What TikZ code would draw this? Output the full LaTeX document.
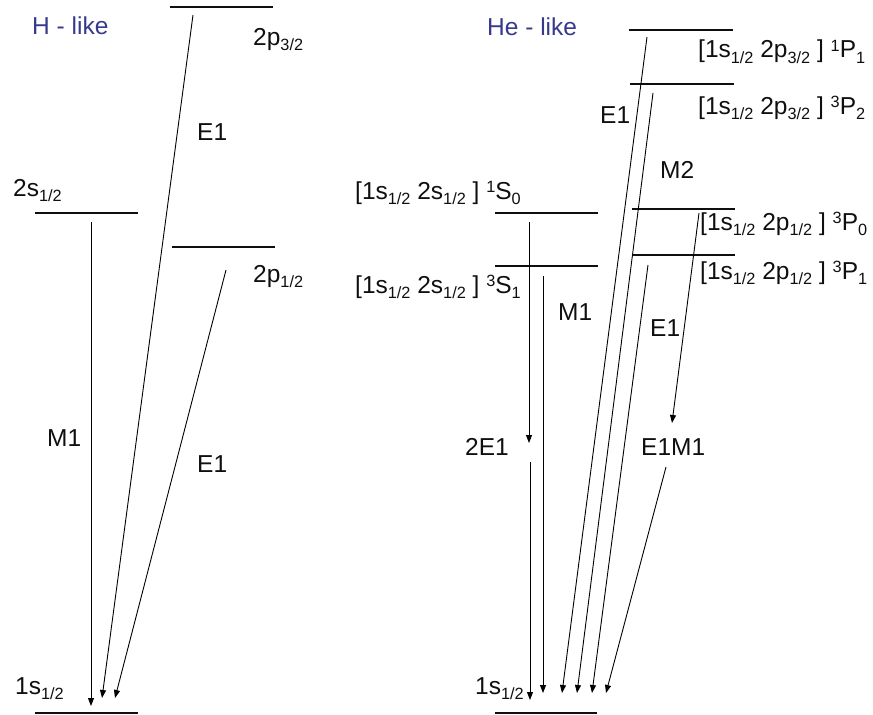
\documentclass[tikz,border=0pt]{standalone}
\usepackage{fontspec}
\setmainfont{Liberation Sans}
\usetikzlibrary{arrows.meta}
\newcommand\lo[1]{\raisebox{-5.5pt}{\fontsize{16.3}{16}\selectfont #1}}
\newcommand\hi[1]{\raisebox{6.2pt}{\fontsize{16.3}{16}\selectfont #1}}
\definecolor{ink}{RGB}{15,15,15}
\definecolor{navy}{RGB}{55,58,140}
\begin{document}
\begin{tikzpicture}[x=1pt,y=-1pt,
 lvl/.style={line width=2.8pt, draw=ink},
 tr/.style={line width=0.9pt, draw=black, -{Triangle[length=8pt,width=6pt]}},
 txt/.style={anchor=base west, inner sep=0pt, font=\fontsize{24.5}{28}\selectfont, text=ink},
 ttl/.style={txt, text=navy}]
\useasboundingbox (0,0) rectangle (873,715);

% ---------- H-like ----------
\node[ttl] (hl) at (32,34) {H - like};
\draw[lvl] (170,7) -- (273,7);
\draw[lvl] (35,213) -- (138,213);
\draw[lvl] (172,247) -- (275,247);
\draw[lvl] (35,713) -- (138,713);
\node[txt] (h2p32) at (253,45) {2p\lo{3/2}};
\node[txt] (h2s) at (13,196) {2s\lo{1/2}};
\node[txt] (h2p12) at (253,282) {2p\lo{1/2}};
\node[txt] (h1s) at (15,694) {1s\lo{1/2}};
\node[txt] (hE1a) at (197,140) {E1};
\node[txt] (hM1) at (47,446) {M1};
\node[txt] (hE1b) at (197,472) {E1};

\coordinate (hM1s) at (91,222);  \coordinate (hM1e) at (91,706);
\coordinate (hEas) at (193,15);  \coordinate (hEae) at (102,698);
\coordinate (hEbs) at (226,270); \coordinate (hEbe) at (115,698);
\draw[tr] (hM1s) -- (hM1e);
\draw[tr] (hEas) -- (hEae);
\draw[tr] (hEbs) -- (hEbe);

% ---------- He-like ----------
\node[ttl] (hel) at (487,35) {He - like};
\draw[lvl] (629,30) -- (733,30);
\draw[lvl] (630,84) -- (734,84);
\draw[lvl] (495,213) -- (598,213);
\draw[lvl] (632,209) -- (735,209);
\draw[lvl] (495,266) -- (598,266);
\draw[lvl] (632,255) -- (735,255);
\draw[lvl] (495,713) -- (597,713);

\node[txt] (l1P1) at (698,57.5) {[1s\lo{1/2} 2p\lo{3/2} ] \hi{1}P\lo{1}};
\node[txt] (l3P2) at (698,114) {[1s\lo{1/2} 2p\lo{3/2} ] \hi{3}P\lo{2}};
\node[txt] (l3P0) at (700,230) {[1s\lo{1/2} 2p\lo{1/2} ] \hi{3}P\lo{0}};
\node[txt] (l3P1) at (700,279) {[1s\lo{1/2} 2p\lo{1/2} ] \hi{3}P\lo{1}};
\node[txt] (l1S0) at (355,199) {[1s\lo{1/2} 2s\lo{1/2} ] \hi{1}S\lo{0}};
\node[txt] (l3S1) at (355,293) {[1s\lo{1/2} 2s\lo{1/2} ] \hi{3}S\lo{1}};
\node[txt] (l1s) at (475,694) {1s\lo{1/2}};

\node[txt] (eE1a) at (600,123) {E1};
\node[txt] (eM2) at (660,178) {M2};
\node[txt] (eM1) at (558,320) {M1};
\node[txt] (eE1b) at (650,336) {E1};
\node[txt] (e2E1) at (465,455) {2E1};
\node[txt] (eE1M1) at (641,455) {E1M1};

\coordinate (a1s) at (529,222); \coordinate (a1m) at (529,443);
\coordinate (a1n) at (530,462); \coordinate (a1e) at (530,700);
\coordinate (a2s) at (543,276); \coordinate (a2e) at (543,693);
\coordinate (a3s) at (647,37);  \coordinate (a3e) at (562,693);
\coordinate (a4s) at (653,93);  \coordinate (a4e) at (577,693);
\coordinate (a5s) at (648,265); \coordinate (a5e) at (592,693);
\coordinate (a6s) at (699,213); \coordinate (a6m) at (672,423);
\coordinate (a6n) at (666,467); \coordinate (a6e) at (606,693);
\draw[tr] (a1s) -- (a1m);
\draw[tr] (a1n) -- (a1e);
\draw[tr] (a2s) -- (a2e);
\draw[tr] (a3s) -- (a3e);
\draw[tr] (a4s) -- (a4e);
\draw[tr] (a5s) -- (a5e);
\draw[tr] (a6s) -- (a6m);
\draw[tr] (a6n) -- (a6e);
\end{tikzpicture}
\end{document}
